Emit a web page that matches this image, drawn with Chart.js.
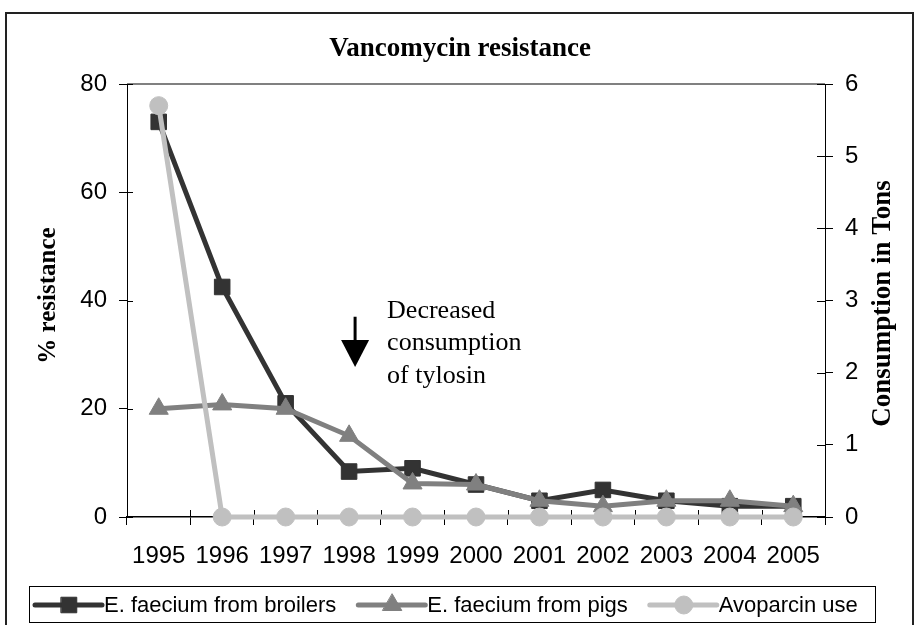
<!DOCTYPE html>
<html>
<head>
<meta charset="utf-8">
<title>Vancomycin resistance</title>
<script src="https://cdn.jsdelivr.net/npm/chart.js"></script>
<style>
  html, body { margin: 0; padding: 0; background: #fff; }
  canvas { display: block; }
</style>
</head>
<body>
<canvas id="chart" width="920" height="625"></canvas>
<script>
// data
const years = ['1995', '1996', '1997', '1998', '1999', '2000', '2001', '2002', '2003', '2004', '2005'];
const broilers = [73, 42.5, 21, 8.4, 9, 6, 3, 5, 3, 2, 2];
const pigs = [20, 20.8, 20, 15, 6.2, 6, 3, 2, 3, 3, 2];
const avoparcin = [5.7, 0, 0, 0, 0, 0, 0, 0, 0, 0, 0];
const seriesNames = ['E. faecium from broilers', 'E. faecium from pigs', 'Avoparcin use'];
const seriesColors = ['#333333', '#808080', '#c0c0c0'];
const noteLines = ['Decreased', 'consumption', 'of tylosin'];

const sans = '"Liberation Sans", Arial, sans-serif';
const serif = '"Liberation Serif", "Times New Roman", serif';

const styles = [
  { pointStyle: 'rect', radius: 11 },
  { pointStyle: 'triangle', radius: 11 },
  { pointStyle: 'circle', radius: 9 }
];

function makeSet(i, data, axis, order) {
  return {
    label: seriesNames[i],
    data: data,
    yAxisID: axis,
    order: order,
    clip: false,
    borderColor: seriesColors[i],
    backgroundColor: seriesColors[i],
    borderWidth: 5,
    pointStyle: styles[i].pointStyle,
    pointRadius: styles[i].radius,
    pointBorderWidth: 1,
    pointBorderColor: seriesColors[i],
    pointBackgroundColor: seriesColors[i],
    tension: 0
  };
}

const decor = {
  id: 'decor',
  beforeDatasetsDraw(chart) {
    const { ctx, chartArea: a, scales: { x, y, y1 } } = chart;
    ctx.save();
    // grey top edge of the plot
    ctx.strokeStyle = '#808080';
    ctx.lineWidth = 2;
    ctx.beginPath();
    ctx.moveTo(a.left, a.top);
    ctx.lineTo(a.right, a.top);
    ctx.stroke();
    // inner halves of the cross ticks
    ctx.strokeStyle = '#000';
    ctx.lineWidth = 1;
    ctx.beginPath();
    y.ticks.forEach(t => {
      const py = Math.round(y.getPixelForValue(t.value)) + 0.5;
      ctx.moveTo(a.left, py); ctx.lineTo(a.left + 6, py);
    });
    y1.ticks.forEach(t => {
      const py = Math.round(y1.getPixelForValue(t.value)) + 0.5;
      ctx.moveTo(a.right - 8, py); ctx.lineTo(a.right, py);
    });
    for (let i = 0; i <= years.length; i++) {
      const px = Math.round(x.getPixelForValue(i - 0.5)) + 0.5;
      ctx.moveTo(px, a.bottom - 7); ctx.lineTo(px, a.bottom);
    }
    ctx.stroke();
    ctx.restore();
  },
  afterDraw(chart) {
    const { ctx, chartArea: a, scales: { x, y } } = chart;
    ctx.save();

    // outer frame
    ctx.strokeStyle = '#222';
    ctx.lineWidth = 2;
    ctx.strokeRect(6, 13, 907, 700);

    // title
    ctx.fillStyle = '#000';
    ctx.font = 'bold 27px ' + serif;
    ctx.textAlign = 'center';
    ctx.textBaseline = 'alphabetic';
    ctx.fillText('Vancomycin resistance', 460, 56);

    // axis titles, both read bottom to top
    const midY = (a.top + a.bottom) / 2;
    ctx.font = 'bold 25px ' + serif;
    ctx.save();
    ctx.translate(55, midY - 5);
    ctx.rotate(-Math.PI / 2);
    ctx.fillText('% resistance', 0, 0);
    ctx.restore();
    ctx.font = 'bold 27px ' + serif;
    ctx.save();
    ctx.translate(890, midY + 3);
    ctx.rotate(-Math.PI / 2);
    ctx.fillText('Consumption in Tons', 0, 0);
    ctx.restore();

    // note with arrow at 1998
    const ax = x.getPixelForValue(3) + 6;
    const top = y.getPixelForValue(37);
    const tip = y.getPixelForValue(27.7);
    ctx.strokeStyle = '#000';
    ctx.lineWidth = 3;
    ctx.beginPath();
    ctx.moveTo(ax, top);
    ctx.lineTo(ax, tip - 20);
    ctx.stroke();
    ctx.beginPath();
    ctx.moveTo(ax - 14, tip - 27);
    ctx.lineTo(ax + 14, tip - 27);
    ctx.lineTo(ax, tip);
    ctx.closePath();
    ctx.fill();
    ctx.font = '26px ' + serif;
    ctx.textAlign = 'left';
    noteLines.forEach((t, i) => ctx.fillText(t, ax + 32, top + 1 + i * 32.5));

    // legend
    ctx.lineWidth = 1;
    ctx.strokeStyle = '#000';
    ctx.strokeRect(29.5, 586.5, 846, 36);
    ctx.font = '22px ' + sans;
    ctx.textBaseline = 'middle';
    let lx = 35;
    const ly = 605;
    seriesNames.forEach((name, i) => {
      ctx.strokeStyle = seriesColors[i];
      ctx.fillStyle = seriesColors[i];
      ctx.lineWidth = 5;
      ctx.lineCap = 'round';
      ctx.beginPath();
      ctx.moveTo(lx, ly);
      ctx.lineTo(lx + 67, ly);
      ctx.stroke();
      ctx.lineWidth = 1;
      Chart.helpers.drawPoint(ctx, { pointStyle: styles[i].pointStyle, radius: styles[i].radius, rotation: 0, borderWidth: 1 }, lx + 34, ly);
      ctx.fillStyle = '#000';
      ctx.fillText(name, lx + 69, ly + 1);
      lx += 69 + ctx.measureText(name).width + 22;
    });
    ctx.restore();
  }
};

new Chart(document.getElementById('chart'), {
  type: 'line',
  data: {
    labels: years,
    datasets: [
      makeSet(0, broilers, 'y', 2),
      makeSet(1, pigs, 'y', 1),
      makeSet(2, avoparcin, 'y1', 0)
    ]
  },
  options: {
    responsive: false,
    animation: false,
    devicePixelRatio: 1,
    layout: { padding: { top: 84, bottom: 48, left: 0, right: 0 } },
    plugins: {
      legend: { display: false },
      title: { display: false },
      tooltip: { enabled: false }
    },
    scales: {
      x: {
        type: 'category',
        offset: true,
        grid: { offset: true, drawOnChartArea: false, tickLength: 8, color: '#000' },
        border: { color: '#000', width: 1.5 },
        ticks: { color: '#000', font: { family: sans, size: 24 }, maxRotation: 0, autoSkip: false, padding: 17 },
        afterFit(s) { s.height = 60; }
      },
      y: {
        position: 'left',
        min: 0, max: 80,
        grid: { drawOnChartArea: false, tickLength: 8, color: '#000' },
        border: { color: '#000', width: 1 },
        ticks: { stepSize: 20, color: '#000', font: { family: sans, size: 24 }, padding: 12 },
        afterFit(s) { s.width = 127; }
      },
      y1: {
        position: 'right',
        min: 0, max: 6,
        grid: { drawOnChartArea: false, tickLength: 8, color: '#000' },
        border: { color: '#000', width: 1 },
        ticks: { stepSize: 1, color: '#000', font: { family: sans, size: 24 }, padding: 12 },
        afterFit(s) { s.width = 95; }
      }
    }
  },
  plugins: [decor]
});
</script>
</body>
</html>
